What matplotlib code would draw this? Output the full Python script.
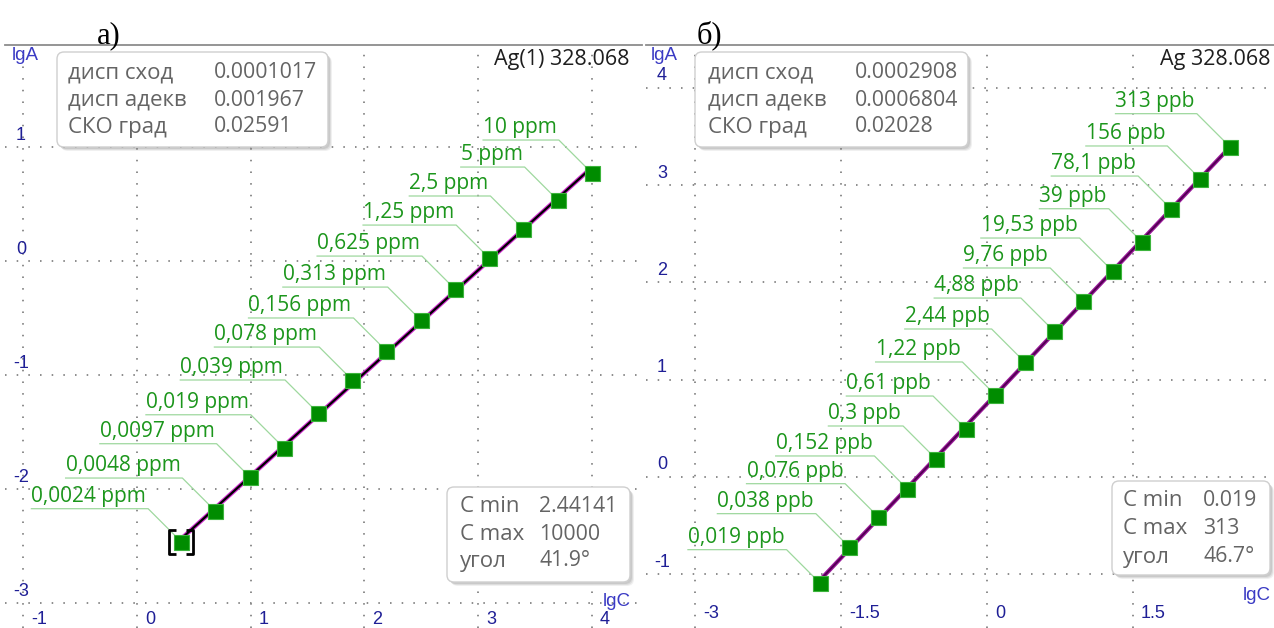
import numpy as np
import matplotlib
matplotlib.use("Agg")
import matplotlib.pyplot as plt
from matplotlib.patches import FancyBboxPatch
from matplotlib.path import Path
from matplotlib import transforms as mtrans

W, H, DPI = 1274, 628, 100

plt.rcParams['font.family'] = ['Open Sans', 'DejaVu Sans']

# ---- panel а): Ag(1) 328.068 ----
labels_a = ["0,0024 ppm", "0,0048 ppm", "0,0097 ppm", "0,019 ppm", "0,039 ppm",
            "0,078 ppm", "0,156 ppm", "0,313 ppm", "0,625 ppm", "1,25 ppm",
            "2,5 ppm", "5 ppm", "10 ppm"]
lgC_a = [0.388, 0.689, 0.990, 1.291, 1.592, 1.893, 2.194, 2.495, 2.796,
         3.097, 3.398, 3.699, 4.000]
lgA_a = [-2.462, -2.193, -1.892, -1.638, -1.333, -1.044, -0.789, -0.518,
         -0.246, 0.026, 0.281, 0.535, 0.772]
xticks_a = [-1, 0, 1, 2, 3, 4]
yticks_a = [-3, -2, -1, 0, 1]
stats_a = [("дисп сход", "0.0001017"), ("дисп адекв", "0.001967"), ("СКО град", "0.02591")]
range_a = [("C min", "2.44141"), ("C max", "10000"), ("угол", "41.9°")]
title_a = "Ag(1) 328.068"

# ---- panel б): Ag 328.068 ----
labels_b = ["0,019 ppb", "0,038 ppb", "0,076 ppb", "0,152 ppb", "0,3 ppb",
            "0,61 ppb", "1,22 ppb", "2,44 ppb", "4,88 ppb", "9,76 ppb",
            "19,53 ppb", "39 ppb", "78,1 ppb", "156 ppb", "313 ppb"]
lgC_b = [-1.721, -1.420, -1.119, -0.818, -0.523, -0.215, 0.086, 0.387,
         0.688, 0.989, 1.291, 1.591, 1.893, 2.193, 2.496]
lgA_b = [-1.086, -0.716, -0.408, -0.123, 0.185, 0.493, 0.843, 1.182,
         1.500, 1.809, 2.117, 2.418, 2.754, 3.063, 3.395]
xticks_b = [-3, -1.5, 0, 1.5]
yticks_b = [-1, 0, 1, 2, 3, 4]
stats_b = [("дисп сход", "0.0002908"), ("дисп адекв", "0.0006804"), ("СКО град", "0.02028")]
range_b = [("C min", "0.019"), ("C max", "313"), ("угол", "46.7°")]
title_b = "Ag 328.068"

fig = plt.figure(figsize=(W / DPI, H / DPI), dpi=DPI)
fig.patch.set_facecolor('white')

# pixel coordinates measured from the top-left corner of the figure
PX = mtrans.Affine2D().scale(1 / DPI, -1 / DPI).translate(0, H / DPI) + fig.dpi_scale_trans

TICK_COLOR = '#1f1f96'
AXLBL_COLOR = '#3a3ac4'
GREEN_TXT = '#1c961c'
GREEN_LINE = '#9ed89e'
BOX_TXT = '#646464'
SANS2 = ['Liberation Sans', 'DejaVu Sans']


def fig_rect(x0, y0, x1, y1):
    return [x0 / W, 1 - y1 / H, (x1 - x0) / W, (y1 - y0) / H]


def setup_axes(rect, xlim, ylim, xticks, yticks, xlab_dy):
    ax = fig.add_axes(fig_rect(*rect))
    ax.set_xlim(*xlim)
    ax.set_ylim(*ylim)
    ax.set_xticks(xticks)
    ax.set_yticks(yticks)
    ax.set_axisbelow(True)
    ax.grid(True, color='#8c8c8c', lw=1.4, linestyle=(0, (0.8, 5.2)))
    ax.tick_params(length=0, labelbottom=False, labelleft=False)
    for side in ('left', 'right', 'bottom'):
        ax.spines[side].set_visible(False)
    ax.spines['top'].set_color('#8c8c8c')
    ax.spines['top'].set_linewidth(1.3)
    bx = mtrans.blended_transform_factory(ax.transData, ax.transAxes)
    for t in xticks:
        ax.text(t, 0, f"{t:g}", transform=mtrans.offset_copy(bx, fig, x=8, y=xlab_dy, units='dots'),
                ha='left', va='center', color=TICK_COLOR, fontsize=13, family=SANS2)
    by = mtrans.blended_transform_factory(ax.transAxes, ax.transData)
    for t in yticks:
        ax.text(0, t, f"{t:g}", transform=mtrans.offset_copy(by, fig, x=16, y=12, units='dots'),
                ha='center', va='center', color=TICK_COLOR, fontsize=13, family=SANS2)
    return ax


ax_a = setup_axes((5, 45, 642, 628), (-1.161, 4.441), (-3.219, 1.895), xticks_a, yticks_a, 9)
ax_b = setup_axes((646, 45, 1274, 628), (-3.505, 2.950), (-1.552, 4.440), xticks_b, yticks_b, 15)


def draw_series(ax, xs, ys, line_color, line_w, core_color, core_w):
    xs = np.asarray(xs)
    ys = np.asarray(ys)
    k, b = np.polyfit(xs, ys, 1)
    xl = np.array([xs.min(), xs.max()])
    ax.plot(xl, k * xl + b, color=line_color, lw=line_w, solid_capstyle='butt', zorder=3)
    ax.plot(xl, k * xl + b, color=core_color, lw=core_w, solid_capstyle='butt', zorder=3)
    ax.plot(xs, ys, 's', ms=10.8, mfc='#008c00', mec='#3cb43c', mew=0.8, zorder=5)


draw_series(ax_a, lgC_a, lgA_a, '#d030d0', 3.2, '#000000', 1.6)
draw_series(ax_b, lgC_b, lgA_b, '#9a1a9a', 3.0, '#520052', 1.3)

# selection brackets around the lowest standard of panel а)
bracket = Path([(-0.45, 1), (-1, 1), (-1, -1), (-0.45, -1),
                (0.45, 1), (1, 1), (1, -1), (0.45, -1)],
               [Path.MOVETO, Path.LINETO, Path.LINETO, Path.LINETO,
                Path.MOVETO, Path.LINETO, Path.LINETO, Path.LINETO])
ax_a.plot([lgC_a[0]], [lgA_a[0]], marker=bracket, ms=17.5, mfc='none', mec='black',
          mew=2.0, ls='none', zorder=6)

# concentration labels with leader lines
label_texts = []
for ax, xs, ys, labels in ((ax_a, lgC_a, lgA_a, labels_a), (ax_b, lgC_b, lgA_b, labels_b)):
    tr = mtrans.offset_copy(ax.transData, fig, x=-35, y=40, units='dots')
    for x, y, s in zip(xs, ys, labels):
        t = ax.text(x, y, s, transform=tr, ha='right', va='baseline',
                    color=GREEN_TXT, fontsize=15, zorder=4)
        label_texts.append((ax, x, y, t))


# information boxes
def info_box(x0, y0, x1, y1):
    for d, a in ((4, 0.10), (3, 0.14), (2, 0.18)):
        sh = FancyBboxPatch((x0 + d, y0 + d), x1 - x0, y1 - y0,
                            boxstyle="round,pad=0,rounding_size=7",
                            transform=PX, fc='#707070', ec='none', alpha=a, zorder=8)
        fig.add_artist(sh)
    box = FancyBboxPatch((x0, y0), x1 - x0, y1 - y0,
                         boxstyle="round,pad=0,rounding_size=7",
                         transform=PX, fc='white', ec='#cfcfcf', lw=1.0, zorder=9)
    fig.add_artist(box)


def box_rows(rows, xl, xv, ys):
    for (name, val), y in zip(rows, ys):
        fig.text(xl, y, name, transform=PX, ha='left', va='center', color=BOX_TXT,
                 fontsize=16, zorder=10)
        fig.text(xv, y, val, transform=PX, ha='left', va='center', color=BOX_TXT,
                 fontsize=15.3, zorder=10)


info_box(57, 52, 328, 147)
box_rows(stats_a, 68, 214, (73, 100, 127))
info_box(695, 52, 968, 147)
box_rows(stats_b, 708, 855, (73, 100, 127))
info_box(447, 487, 630, 582)
box_rows(range_a, 460, 539, (507, 534, 561))
info_box(1112, 481, 1270, 575)
box_rows(range_b, 1123, 1203, (501, 529, 557))

# titles and axis names
fig.text(630, 60, title_a, transform=PX, ha='right', va='center', color='#1e1e1e', fontsize=15.5)
fig.text(1270, 60, title_b, transform=PX, ha='right', va='center', color='#1e1e1e', fontsize=15.5)
for x, y in ((12, 56), (651, 56)):
    fig.text(x, y, "lgA", transform=PX, ha='left', va='center', color=AXLBL_COLOR,
             fontsize=13.5, family=SANS2)
for x, y in ((617, 601), (1257, 595)):
    fig.text(x, y, "lgC", transform=PX, ha='center', va='center', color=AXLBL_COLOR,
             fontsize=13.5, family=SANS2)
fig.text(97, 43, "а)", transform=PX, ha='left', va='baseline', color='black',
         fontsize=22, family=['Liberation Serif', 'DejaVu Serif'])
fig.text(697, 43, "б)", transform=PX, ha='left', va='baseline', color='black',
         fontsize=22, family=['Liberation Serif', 'DejaVu Serif'])

# leader lines: underline below each label, then a diagonal to its point
fig.canvas.draw()
renderer = fig.canvas.get_renderer()
for ax, x, y, t in label_texts:
    bb = t.get_window_extent(renderer)
    px, py = ax.transData.transform((x, y))
    disp = np.array([[bb.x0, py + 33], [px - 33, py + 33], [px, py]])
    dat = ax.transData.inverted().transform(disp)
    ax.plot(dat[:, 0], dat[:, 1], color=GREEN_LINE, lw=0.9, zorder=2)

fig.savefig("out.png", dpi=DPI, facecolor='white')
